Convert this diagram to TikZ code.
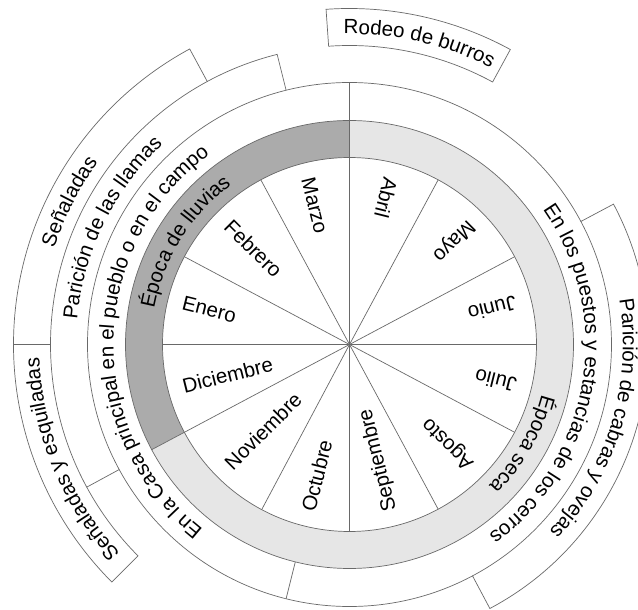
\documentclass[tikz,border=0pt]{standalone}
\usepackage{fontspec}
\setmainfont{Liberation Sans}
\usetikzlibrary{decorations.text}
\definecolor{linegray}{RGB}{105,105,105}
\definecolor{darkring}{RGB}{171,171,171}
\definecolor{lightring}{RGB}{230,230,230}
\newcommand{\labelfont}{\fontsize{20.5}{24}\selectfont}
\newcommand{\ArcText}[4]{% #1 centre angle, #2 baseline radius, #3 half span, #4 text
  \path[decorate, decoration={text along path, text align=center, text={|\labelfont|#4}}]
    ({#1+#3}:#2) arc[start angle={#1+#3}, end angle={#1-#3}, radius=#2];
}
\tikzset{
  ring/.style={draw=linegray, line width=0.7pt},
  monthlabel/.style={font=\labelfont, inner sep=0pt, anchor=west}
}
\begin{document}
\begin{tikzpicture}[x=1pt,y=1pt]
\useasboundingbox (-349.5,-265.5) rectangle (288.5,344.5);
\fill[white] (-349.5,-265.5) rectangle (288.5,344.5);
\coordinate (c) at (0,0);
% seasons ring
\fill[darkring] (90:224) arc[start angle=90,end angle=208,radius=224] -- (208:187) arc[start angle=208,end angle=90,radius=187] -- cycle;
\fill[lightring] (208:224) arc[start angle=208,end angle=450,radius=224] -- (450:187) arc[start angle=450,end angle=208,radius=187] -- cycle;
% circles
\draw[ring] (c) circle[radius=187];
\draw[ring] (c) circle[radius=224];
\draw[ring] (c) circle[radius=262];
% month dividers
\foreach \a in {0,28,61.7,118.3,152,180,242,270,298.3,332}
  \draw[ring] (c) -- (\a:187);
\draw[ring] (c) -- (90:262);
\draw[ring] (c) -- (208:224);
\draw[ring] (256:224) -- (256:262);
% outer bands
\draw[ring] (104:262) -- (104:299) arc[start angle=104,end angle=208.5,radius=299] -- (208.5:262);
\draw[ring] (28:262) -- (28:299) arc[start angle=28,end angle=-62,radius=299] -- (-62:262);
\draw[ring] (118.4:299) -- (118.4:336) arc[start angle=118.4,end angle=180,radius=336] -- (180:299);
\draw[ring] (180:336) arc[start angle=180,end angle=225,radius=336] -- (225:299) arc[start angle=225,end angle=208.5,radius=299];
\draw[ring] (61.4:299) -- (61.4:336) arc[start angle=61.4,end angle=94,radius=336] -- (94:299) arc[start angle=94,end angle=61.4,radius=299] -- cycle;
% month labels
\node[monthlabel, rotate=256] (abril) at (76:172) {Abril};
\node[monthlabel, rotate=225] (mayo) at (45:172) {Mayo};
\node[monthlabel, rotate=194] (junio) at (14:172) {Junio};
\node[monthlabel, rotate=166] (julio) at (-14:172) {Julio};
\node[monthlabel, rotate=135] (agosto) at (-45:172) {Agosto};
\node[monthlabel, rotate=104] (septiembre) at (-76:172) {Septiembre};
\node[monthlabel, rotate=76] (octubre) at (-104:172) {Octubre};
\node[monthlabel, rotate=45] (noviembre) at (-135:172) {Noviembre};
\node[monthlabel, rotate=14] (diciembre) at (194:172) {Diciembre};
\node[monthlabel, rotate=-14] (enero) at (166:172) {Enero};
\node[monthlabel, rotate=-45] (febrero) at (135:172) {Febrero};
\node[monthlabel, rotate=-76] (marzo) at (104:172) {Marzo};
% arc labels
\ArcText{148}{198.5}{60}{Época de lluvias}
\ArcText{-30}{198.5}{60}{Época seca}
\ArcText{179}{236}{80}{En la Casa principal en el pueblo o en el campo}
\ArcText{-9.4}{236}{80}{En los puestos y estancias de los cerros}
\ArcText{153.9}{273.5}{60}{Parición de las llamas}
\ArcText{-16.8}{273.5}{60}{Parición de cabras y ovejas}
\ArcText{153}{310.5}{50}{Señaladas}
\ArcText{202.4}{310.5}{50}{Señaladas y esquiladas}
\ArcText{77}{310.5}{50}{Rodeo de burros}
\end{tikzpicture}
\end{document}
